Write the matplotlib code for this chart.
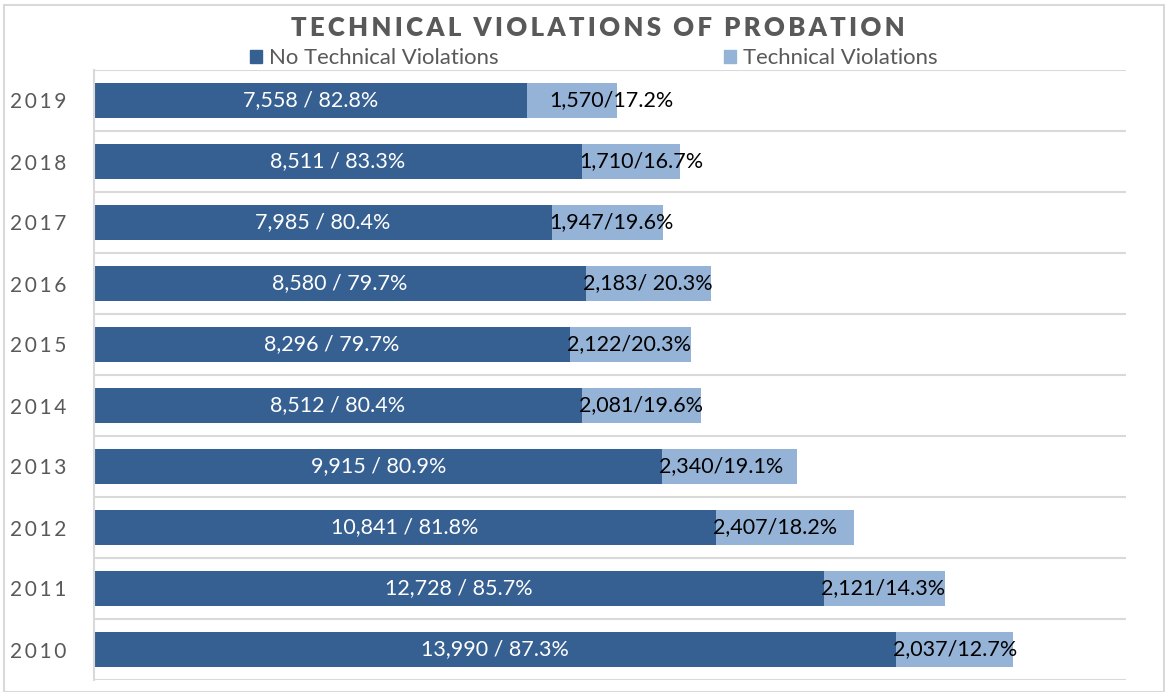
import numpy as np
import matplotlib.pyplot as plt
from matplotlib.patches import Rectangle, Patch

years = ['2019', '2018', '2017', '2016', '2015', '2014', '2013', '2012', '2011', '2010']
no_tv = [7558, 8511, 7985, 8580, 8296, 8512, 9915, 10841, 12728, 13990]
tv = [1570, 1710, 1947, 2183, 2122, 2081, 2340, 2407, 2121, 2037]
no_tv_labels = ['7,558 / 82.8%', '8,511 / 83.3%', '7,985 / 80.4%', '8,580 / 79.7%',
                '8,296 / 79.7%', '8,512 / 80.4%', '9,915 / 80.9%', '10,841 / 81.8%',
                '12,728 / 85.7%', '13,990 / 87.3%']
tv_labels = ['1,570/17.2%', '1,710/16.7%', '1,947/19.6%', '2,183/ 20.3%', '2,122/20.3%',
             '2,081/19.6%', '2,340/19.1%', '2,407/18.2%', '2,121/14.3%', '2,037/12.7%']

DARK = '#376092'
LIGHT = '#95b3d7'
GRID = '#d9d9d9'
TXT = '#595959'
FONT = ['Lato', 'DejaVu Sans']
TS = '\u2009'  # thin space, for the letter-spaced texts

plt.rcParams['font.family'] = FONT

fig = plt.figure(figsize=(11.65, 6.92), dpi=100)
ax = fig.add_axes([94 / 1165, 12 / 692, 1032 / 1165, 610 / 692])

y = np.arange(len(years))[::-1]
ax.barh(y, no_tv, height=0.57, color=DARK)
ax.barh(y, tv, left=no_tv, height=0.57, color=LIGHT)

# the 2019 label sits a bit further right in the original
px = 18000 / 1032
shift = [22 if yr == '2019' else -3 for yr in years]
for yi, a, la, lb, dx in zip(y, no_tv, no_tv_labels, tv_labels, shift):
    ax.text(a / 2, yi, la, ha='center', va='center', color='white', fontsize=15.5)
    ax.text(a + dx * px, yi, lb, ha='left', va='center', color='black', fontsize=15.5)

ax.set_xlim(0, 18000)
ax.set_ylim(-0.5, len(years) - 0.5)
ax.set_xticks([])
ax.set_yticks(y)
ax.set_yticklabels([TS.join(s) for s in years], fontsize=15, color=TXT)
ax.tick_params(axis='y', length=0, pad=20)
for yy in np.arange(-0.5, len(years), 1.0):
    ax.axhline(yy, color=GRID, lw=1.5, zorder=0)
for s in ['top', 'right', 'bottom']:
    ax.spines[s].set_visible(False)
ax.spines['left'].set_color(GRID)
ax.spines['left'].set_linewidth(1.5)

title = 'TECHNICAL VIOLATIONS OF PROBATION'
fig.text(598 / 1165, 1 - 28 / 692, TS.join(title).replace(TS + ' ' + TS, '  '),
         ha='center', va='center', fontsize=18.5, fontweight='heavy', color=TXT)

handles = [Patch(color=DARK), Patch(color=LIGHT)]
fig.legend(handles, ['No Technical Violations', 'Technical Violations'],
           loc='center', bbox_to_anchor=(594 / 1165, 1 - 58 / 692), ncol=2,
           frameon=False, fontsize=15.9, labelcolor=TXT, handlelength=0.55,
           handleheight=0.55, handletextpad=0.32, columnspacing=10.2,
           borderpad=0, borderaxespad=0)

fig.patches.append(Rectangle((4 / 1165, 0), 1 - 5 / 1165, 1 - 5 / 692, transform=fig.transFigure,
                             fill=False, edgecolor=GRID, lw=1.5))

fig.savefig('out.png', dpi=100)
